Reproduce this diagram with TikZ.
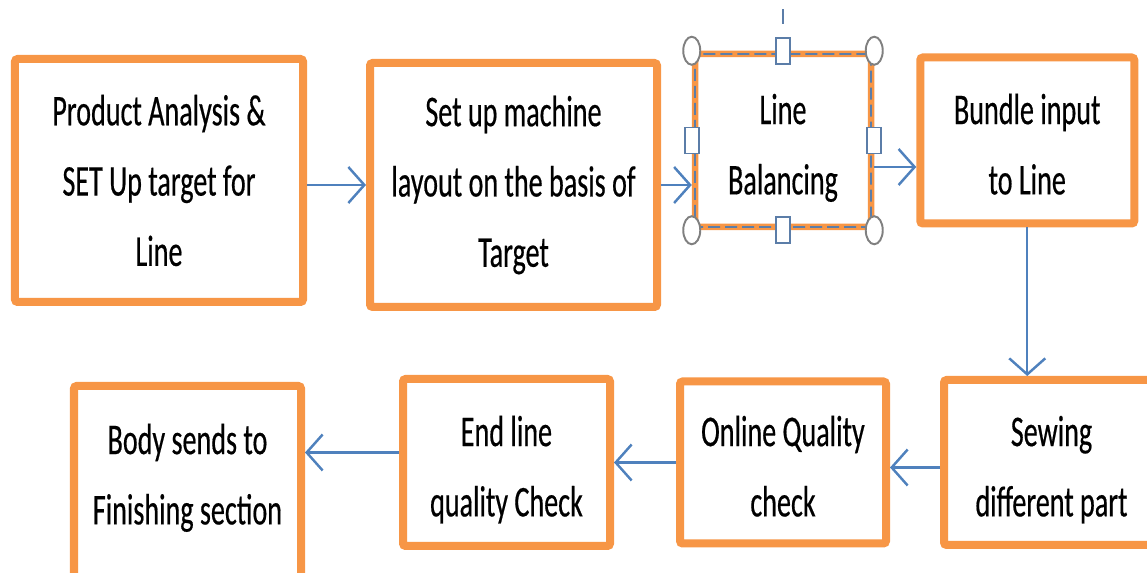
\documentclass[tikz,border=0pt]{standalone}
\usepackage{fontspec}
\setmainfont{Carlito}[FakeStretch=0.64, FakeBold=0.4]
\usepackage{tikz}
\usetikzlibrary{positioning}
\usetikzlibrary{arrows.meta}
\usetikzlibrary{shapes.geometric}

\definecolor{boxorange}{HTML}{F79646}
\definecolor{flowblue}{HTML}{4F81BD}
\definecolor{handlegray}{HTML}{808080}
\definecolor{handleblue}{HTML}{5B7DA8}

\newcommand{\boxtopstrut}{\rule{0pt}{0.95cm}}
\newcommand{\boxbotstrut}{\rule[-0.2cm]{0pt}{0pt}}

\begin{document}
\begin{tikzpicture}[
                          stepbox/.style={rectangle, draw=boxorange, line width=0.16cm, fill=white, rounded corners=1.5pt, align=center, font=\fontsize{25}{40}\selectfont},
                          selectbox/.style={stepbox, line width=0.13cm, postaction={draw=handleblue, line width=1.1pt, dash pattern=on 0.24cm off 0.1cm}},
                          roundhandle/.style={ellipse, draw=handlegray, fill=white, line width=1.1pt, minimum width=0.34cm, minimum height=0.56cm, inner sep=0pt},
                          squarehandle/.style={rectangle, draw=handleblue, fill=white, line width=1pt, minimum width=0.28cm, minimum height=0.52cm, inner sep=0pt},
                          flowarrow/.style={-{Straight Barb[length=0.32cm, width=0.72cm]}, draw=flowblue, line width=1.4pt},
                      ]
                      \useasboundingbox (0,0) rectangle (22.94,11.46);

                      % Nodes
                      \node[stepbox, minimum width=5.76cm, minimum height=4.86cm]   (prod_analysis)   at (3.18,7.85)   {Product Analysis \&\\SET Up target for\\Line};
                      \node[stepbox, minimum width=5.74cm, minimum height=4.88cm]   (machine_layout)  [right=1.18cm of prod_analysis, yshift=-0.09cm]   {Set up machine\\layout on the basis of\\Target};
                      \node[selectbox, minimum width=3.52cm, minimum height=3.46cm] (line_bal)        at (15.66,8.65)  {\boxtopstrut Line\\Balancing\boxbotstrut};
                      \node[stepbox, minimum width=4.28cm, minimum height=3.32cm]   (bundle_in)       [right=0.84cm of line_bal]   {\boxtopstrut Bundle input\\to Line\boxbotstrut};

                      \node[stepbox, minimum width=4.3cm, minimum height=3.30cm]    (sewing)          at (21.03,2.21)  {\boxtopstrut Sewing\\different part\boxbotstrut};
                      \node[stepbox, minimum width=4.12cm, minimum height=3.24cm]   (online_qc)       [left=1.0cm of sewing]    {\boxtopstrut Online Quality\\check\boxbotstrut};
                      \node[stepbox, minimum width=4.14cm, minimum height=3.34cm]   (endline_qc)      [left=1.24cm of online_qc]   {\boxtopstrut End line\\quality Check\boxbotstrut};
                      \node[stepbox, minimum width=4.54cm, minimum height=3.92cm]   (body_send)       [left=1.88cm of endline_qc, yshift=-0.43cm]   {\rule{0pt}{0.66cm}Body sends to\\Finishing section\rule[-0.45cm]{0pt}{0pt}};

                      % Handles
                      \node[roundhandle]   (h_nw)   at (line_bal.north west)   {};
                      \node[roundhandle]   (h_ne)   at (line_bal.north east)   {};
                      \node[roundhandle]   (h_sw)   at (line_bal.south west)   {};
                      \node[roundhandle]   (h_se)   at (line_bal.south east)   {};
                      \node[squarehandle]  (h_n)    at (line_bal.north)   {};
                      \node[squarehandle]  (h_s)    at (line_bal.south)   {};
                      \node[squarehandle]  (h_w)    at (line_bal.west)    {};
                      \node[squarehandle]  (h_e)    at (line_bal.east)    {};
                      \coordinate (rot_lo) at ([yshift=0.54cm]line_bal.north);
                      \coordinate (rot_hi) at ([yshift=0.84cm]line_bal.north);
                      \draw[handleblue, line width=1pt] (rot_lo) -- (rot_hi);

                      %Lines
                      \draw[flowarrow] (prod_analysis.east |- machine_layout.west) -- (machine_layout.west);
                      \draw[flowarrow] (machine_layout.east) -- (machine_layout.east -| line_bal.west);
                      \draw[flowarrow] ([yshift=-0.53cm]line_bal.east) -- ([yshift=-0.53cm]line_bal.east -| bundle_in.west);
                      \draw[flowarrow] (bundle_in.south) -- (bundle_in.south |- sewing.north);
                      \draw[flowarrow] ([yshift=-0.1cm]sewing.west) -- ([yshift=-0.1cm]sewing.west -| online_qc.east);
                      \draw[flowarrow] (online_qc.west) -- (online_qc.west -| endline_qc.east);
                      \draw[flowarrow] ([yshift=0.2cm]endline_qc.west) -- ([yshift=0.2cm]endline_qc.west -| body_send.east);
                  \end{tikzpicture}
\end{document}
